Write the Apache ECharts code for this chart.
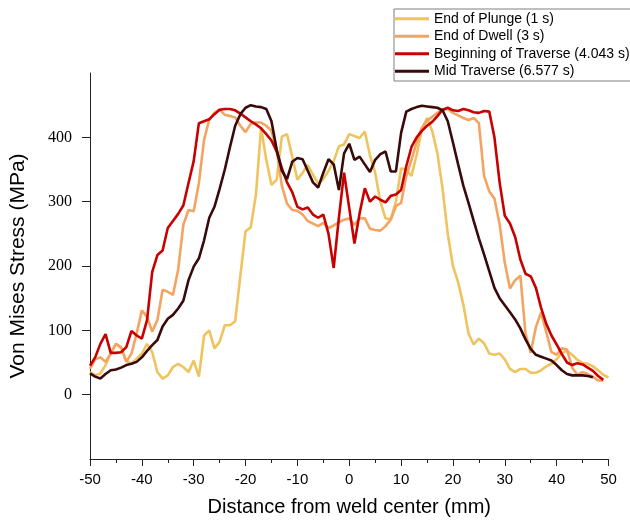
<!DOCTYPE html>
<html><head><meta charset="utf-8">
<script src="https://cdn.jsdelivr.net/npm/echarts@6/dist/echarts.min.js"></script>
<style>html,body{margin:0;padding:0;background:#fff}#c{width:630px;height:523px}</style>
</head><body><div id="c"></div>
<script>
const distance = [-50,-49,-48,-47,-46,-45,-44,-43,-42,-41,-40,-39,-38,-37,-36,-35,-34,-33,-32,-31,-30,-29,-28,-27,-26,-25,-24,-23,-22,-21,-20,-19,-18,-17,-16,-15,-14,-13,-12,-11,-10,-9,-8,-7,-6,-5,-4,-3,-2,-1,0,1,2,3,4,5,6,7,8,9,10,11,12,13,14,15,16,17,18,19,20,21,22,23,24,25,26,27,28,29,30,31,32,33,34,35,36,37,38,39,40,41,42,43,44,45,46,47,48,49,50];

const endOfPlunge = [35,30,33,46,64,79,72,53,48,56,
64,79,66,35,25,30,43,48,43,35,
53,28,92,100,72,82,108,108,114,185,
254,260,311,415,365,326,334,401,405,370,
334,345,357,342,328,335,348,363,386,389,
405,402,399,409,372,345,300,274,273,300,
352,349,340,373,412,430,410,375,320,250,
200,175,140,95,78,87,80,64,62,64,
55,40,35,40,40,34,34,38,44,48,
55,65,68,62,54,49,48,44,38,31,27];

const endOfDwell = [40,55,58,51,64,79,74,51,64,95,
131,121,98,116,163,160,155,194,264,287,
285,329,396,428,438,443,435,433,431,418,
408,421,423,423,418,410,381,325,297,287,
286,280,270,266,262,267,259,263,268,272,
274,264,274,274,258,256,255,262,272,293,
298,340,365,392,415,426,432,438,443,444,
438,434,430,427,430,422,340,316,305,265,
205,165,178,185,95,65,105,128,97,66,
62,72,70,42,31,35,32,28,22,22,null];

const beginningOfTraverse = [45,58,79,94,65,65,66,74,99,92,
87,116,191,217,224,259,270,281,294,329,
363,422,425,428,436,443,444,444,442,437,
431,425,420,414,405,395,378,352,330,315,
292,288,291,280,275,280,250,197,275,345,
290,235,282,321,300,308,303,299,309,311,
318,355,385,400,410,418,424,433,443,446,
442,441,444,442,439,438,441,440,400,330,
278,266,245,210,188,184,166,135,110,92,
78,63,50,46,49,47,42,37,29,23,null];

const midTraverse = [33,28,25,32,38,39,42,46,48,51,
58,68,77,85,106,118,124,134,146,178,
199,212,240,275,292,320,350,385,418,436,
446,450,448,447,444,425,381,348,335,362,
368,366,348,330,322,345,366,358,318,375,
390,365,370,358,346,365,374,378,347,347,
407,440,444,447,449,448,447,446,442,425,
392,358,325,298,270,243,218,192,166,150,
139,128,117,103,86,71,62,59,56,53,
46,38,32,30,30,30,29,27,null,null,null];

const seriesNames = ['End of Plunge (1 s)','End of Dwell (3 s)','Beginning of Traverse (4.043 s)','Mid Traverse (6.577 s)'];
const seriesValues = [endOfPlunge, endOfDwell, beginningOfTraverse, midTraverse];
const seriesColors = ['#EFC45F','#F4A460','#C80000','#3A0A0A'];
const yTickValues = [0,100,200,300,400];

const chart = echarts.init(document.getElementById('c'), null, {renderer:'canvas'});
chart.setOption({
  animation:false,
  backgroundColor:'#fff',
  grid:{left:88,right:21.5,top:73,bottom:64,containLabel:false},
  legend:{
    orient:'vertical', left:394, top:9,
    icon:'rect',
    itemWidth:34, itemHeight:3, itemGap:0,
    padding:[1,4,1,1],
    borderColor:'#7f7f7f', borderWidth:1,
    textStyle:{fontFamily:'Liberation Sans, Arial', fontSize:14, color:'#000', lineHeight:17.5},
    data:seriesNames
  },
  xAxis:{
    type:'value', min:-50, max:50, interval:10,
    name:'Distance from weld center (mm)', nameLocation:'middle', nameGap:38,
    nameTextStyle:{fontFamily:'Liberation Sans, Arial', fontSize:20, color:'#000'},
    axisLine:{show:true,onZero:false,lineStyle:{color:'#222',width:1}},
    axisTick:{show:true,inside:false,length:7,lineStyle:{color:'#222'}},
    minorTick:{show:true,splitNumber:2,length:4,lineStyle:{color:'#222'}},
    splitLine:{show:false},
    axisLabel:{fontFamily:'Liberation Sans, Arial', fontSize:15, color:'#000', margin:13}
  },
  yAxis:{
    type:'value', min:-100, max:500, interval:100,
    name:'Von Mises Stress (MPa)', nameLocation:'middle', nameGap:61,
    nameTextStyle:{fontFamily:'Liberation Sans, Arial', fontSize:21, color:'#000'},
    axisLine:{show:true,onZero:false,lineStyle:{color:'#222',width:1}},
    axisTick:{show:true,length:8,customValues:yTickValues,lineStyle:{color:'#222'}},
    splitLine:{show:false},
    axisLabel:{fontFamily:'Liberation Serif, Times New Roman, serif', fontSize:16, color:'#000', margin:18, customValues:yTickValues}
  },
  series: seriesNames.map((n,i)=>({
    name:n, type:'line', symbol:'none', showSymbol:false,
    data: distance.map((x,j)=>[x, seriesValues[i][j]]),
    connectNulls:false,
    lineStyle:{color:seriesColors[i], width:2.6},
    itemStyle:{color:seriesColors[i]}
  }))
});
</script></body></html>
